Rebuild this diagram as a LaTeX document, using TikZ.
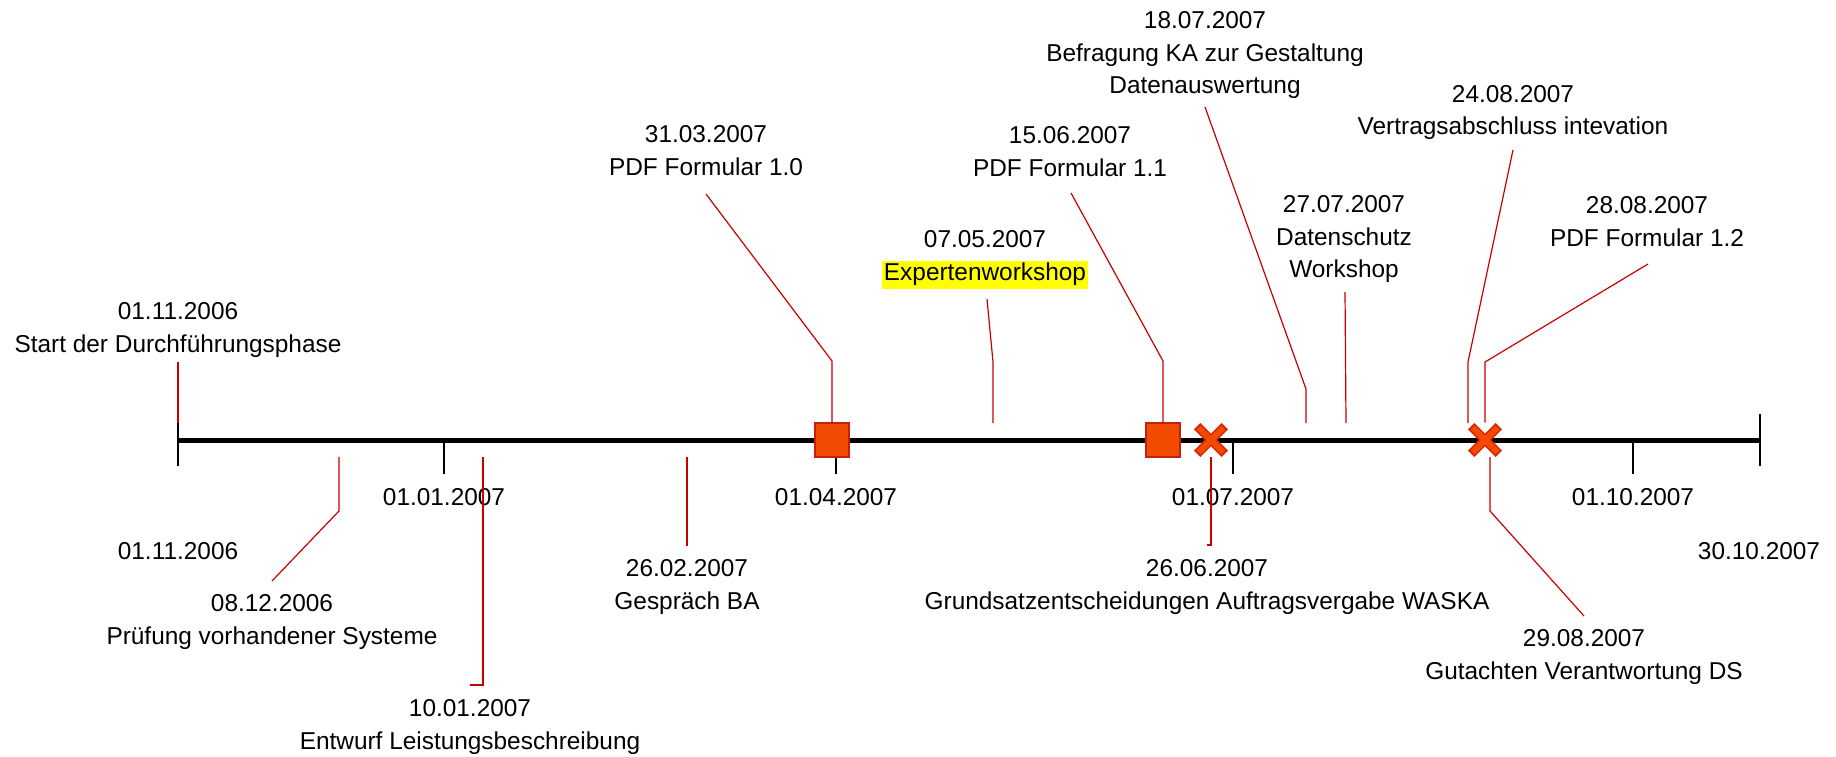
\documentclass[tikz,border=0pt]{standalone}
\usepackage{fontspec}
\setmainfont{Liberation Sans}
\definecolor{connred}{RGB}{200,0,0}
\definecolor{markfill}{RGB}{242,74,0}
\definecolor{markedge}{RGB}{196,32,16}
\definecolor{crossedge}{RGB}{224,36,8}
\definecolor{hilite}{RGB}{255,255,0}
\newcommand{\hlbox}[1]{{\setlength{\fboxsep}{1pt}\colorbox{hilite}{\rule[-0.25em]{0pt}{0.82em}#1}}}
\begin{document}
\begin{tikzpicture}[x=0.5pt,y=-0.5pt,
  lbl/.style={font=\fontsize{12.2}{16.25}\selectfont, align=center, inner sep=0pt, anchor=north},
  axisline/.style={line width=2.5pt, black},
  tickline/.style={line width=0.75pt, black},
  conn/.style={line width=0.6pt, connred},
  sqmark/.style={draw=markedge, fill=markfill, line width=0.6pt, minimum size=17pt, inner sep=0pt},
  xspot/.style={inner sep=0pt, minimum size=17pt},
  xouter/.style={line width=4.5pt, crossedge},
  xinner/.style={line width=3pt, markfill},
]
\fill[white] (0,0) rectangle (1836,756);
\useasboundingbox (0,0) rectangle (1836,756);

% ---- time axis ----
\coordinate (ax0) at (178,440);
\coordinate (ax1) at (1760,440);
\draw[axisline] (ax0) -- (ax1);

% ticks and their dates
\draw[tickline] (178,423) -- (178,466);
\draw[tickline] (1760,414) -- (1760,466);
\foreach \tx in {444,836,1233,1633}
  \draw[tickline] (\tx,440) -- (\tx,474);

\node[lbl] (d0) at (178,542.5) {01.11.2006};
\node[lbl] (d1) at (444,488.5) {01.01.2007};
\node[lbl] (d2) at (836,488.5) {01.04.2007};
\node[lbl] (d3) at (1233,488.5) {01.07.2007};
\node[lbl] (d4) at (1633,488.5) {01.10.2007};
\node[lbl] (d5) at (1759,542.5) {30.10.2007};

% ---- event labels ----
\node[lbl] (evStart) at (178,302.5) {01.11.2006\\Start der Durchführungsphase};
\node[lbl] (evPruef) at (272,594.5) {08.12.2006\\Prüfung vorhandener Systeme};
\node[lbl] (evEntw)  at (470,699.5) {10.01.2007\\Entwurf Leistungsbeschreibung};
\node[lbl] (evGespr) at (687,559.5) {26.02.2007\\Gespräch BA};
\node[lbl] (evPdfA)  at (706,125.5) {31.03.2007\\PDF Formular 1.0};
\node[lbl] (evExp)   at (985,230.5) {07.05.2007\\\hlbox{Expertenworkshop}};
\node[lbl] (evPdfB)  at (1070,126.5) {15.06.2007\\PDF Formular 1.1};
\node[lbl] (evGrund) at (1207,559.5) {26.06.2007\\Grundsatzentscheidungen Auftragsvergabe WASKA};
\node[lbl] (evBefr)  at (1205,11.5) {18.07.2007\\Befragung KA zur Gestaltung\\Datenauswertung};
\node[lbl] (evDsw)   at (1344,195.5) {27.07.2007\\Datenschutz\\Workshop};
\node[lbl] (evVertr) at (1513,85) {24.08.2007\\Vertragsabschluss intevation};
\node[lbl] (evPdfC)  at (1647,196.5) {28.08.2007\\PDF Formular 1.2};
\node[lbl] (evGut)   at (1584,629.5) {29.08.2007\\Gutachten Verantwortung DS};

% ---- markers on the axis ----
\node[xspot] (xm1) at (1211,440) {};
\node[xspot] (xm2) at (1485,440) {};

% ---- connector points ----
\coordinate (cStartA) at (178,362);  \coordinate (cStartB) at (178,423);
\coordinate (cPruefA) at (339,457);  \coordinate (cPruefB) at (339,511);  \coordinate (cPruefC) at (272,581);
\coordinate (cEntwA)  at (483,457);  \coordinate (cEntwB)  at (483,685);  \coordinate (cEntwC)  at (470,685);
\coordinate (cGesprA) at (687,457);  \coordinate (cGesprB) at (687,546);
\coordinate (cPdfAA)  at (706,194);  \coordinate (cPdfAB)  at (832,361);
\coordinate (cExpA)   at (987,299);  \coordinate (cExpB)   at (993,362);  \coordinate (cExpC)   at (993,423);
\coordinate (cPdfBA)  at (1071,193); \coordinate (cPdfBB)  at (1163,361);
\coordinate (cGrundA) at (1211,545); \coordinate (cGrundB) at (1207,545);
\coordinate (cBefrA)  at (1205,107); \coordinate (cBefrB)  at (1306,389); \coordinate (cBefrC)  at (1306,423);
\coordinate (cDswA)   at (1345,292); \coordinate (cDswB)   at (1346,423);
\coordinate (cVertrA) at (1513,150); \coordinate (cVertrB) at (1468,362); \coordinate (cVertrC) at (1468,423);
\coordinate (cPdfCA)  at (1648,264); \coordinate (cPdfCB)  at (1485,362);
\coordinate (cGutA)   at (1490,457); \coordinate (cGutB)   at (1490,511); \coordinate (cGutC)   at (1584,616);

\node[sqmark] (sq1) at (832,440) {};
\node[sqmark] (sq2) at (1163,440) {};

% ---- connectors ----
\draw[conn] (cStartA) -- (cStartB);
\draw[conn] (cPruefA) -- (cPruefB) -- (cPruefC);
\draw[conn] (cEntwA) -- (cEntwB) -- (cEntwC);
\draw[conn] (cGesprA) -- (cGesprB);
\draw[conn] (cPdfAA) -- (cPdfAB) -- (sq1.north);
\draw[conn] (cExpA) -- (cExpB) -- (cExpC);
\draw[conn] (cPdfBA) -- (cPdfBB) -- (sq2.north);
\draw[conn] (xm1.south) -- (cGrundA) -- (cGrundB);
\draw[conn] (cBefrA) -- (cBefrB) -- (cBefrC);
\draw[conn] (cDswA) -- (cDswB);
\draw[conn] (cVertrA) -- (cVertrB) -- (cVertrC);
\draw[conn] (cPdfCA) -- (cPdfCB) -- (xm2.north);
\draw[conn] (cGutA) -- (cGutB) -- (cGutC);

% ---- cross markers ----
\foreach \m in {xm1,xm2} {
  \draw[xouter] ([shift={(-13.8,-13.8)}]\m.center) -- ([shift={(13.8,13.8)}]\m.center)
                ([shift={(-13.8,13.8)}]\m.center) -- ([shift={(13.8,-13.8)}]\m.center);
  \draw[xinner] ([shift={(-12.3,-12.3)}]\m.center) -- ([shift={(12.3,12.3)}]\m.center)
                ([shift={(-12.3,12.3)}]\m.center) -- ([shift={(12.3,-12.3)}]\m.center);
}
\end{tikzpicture}
\end{document}
